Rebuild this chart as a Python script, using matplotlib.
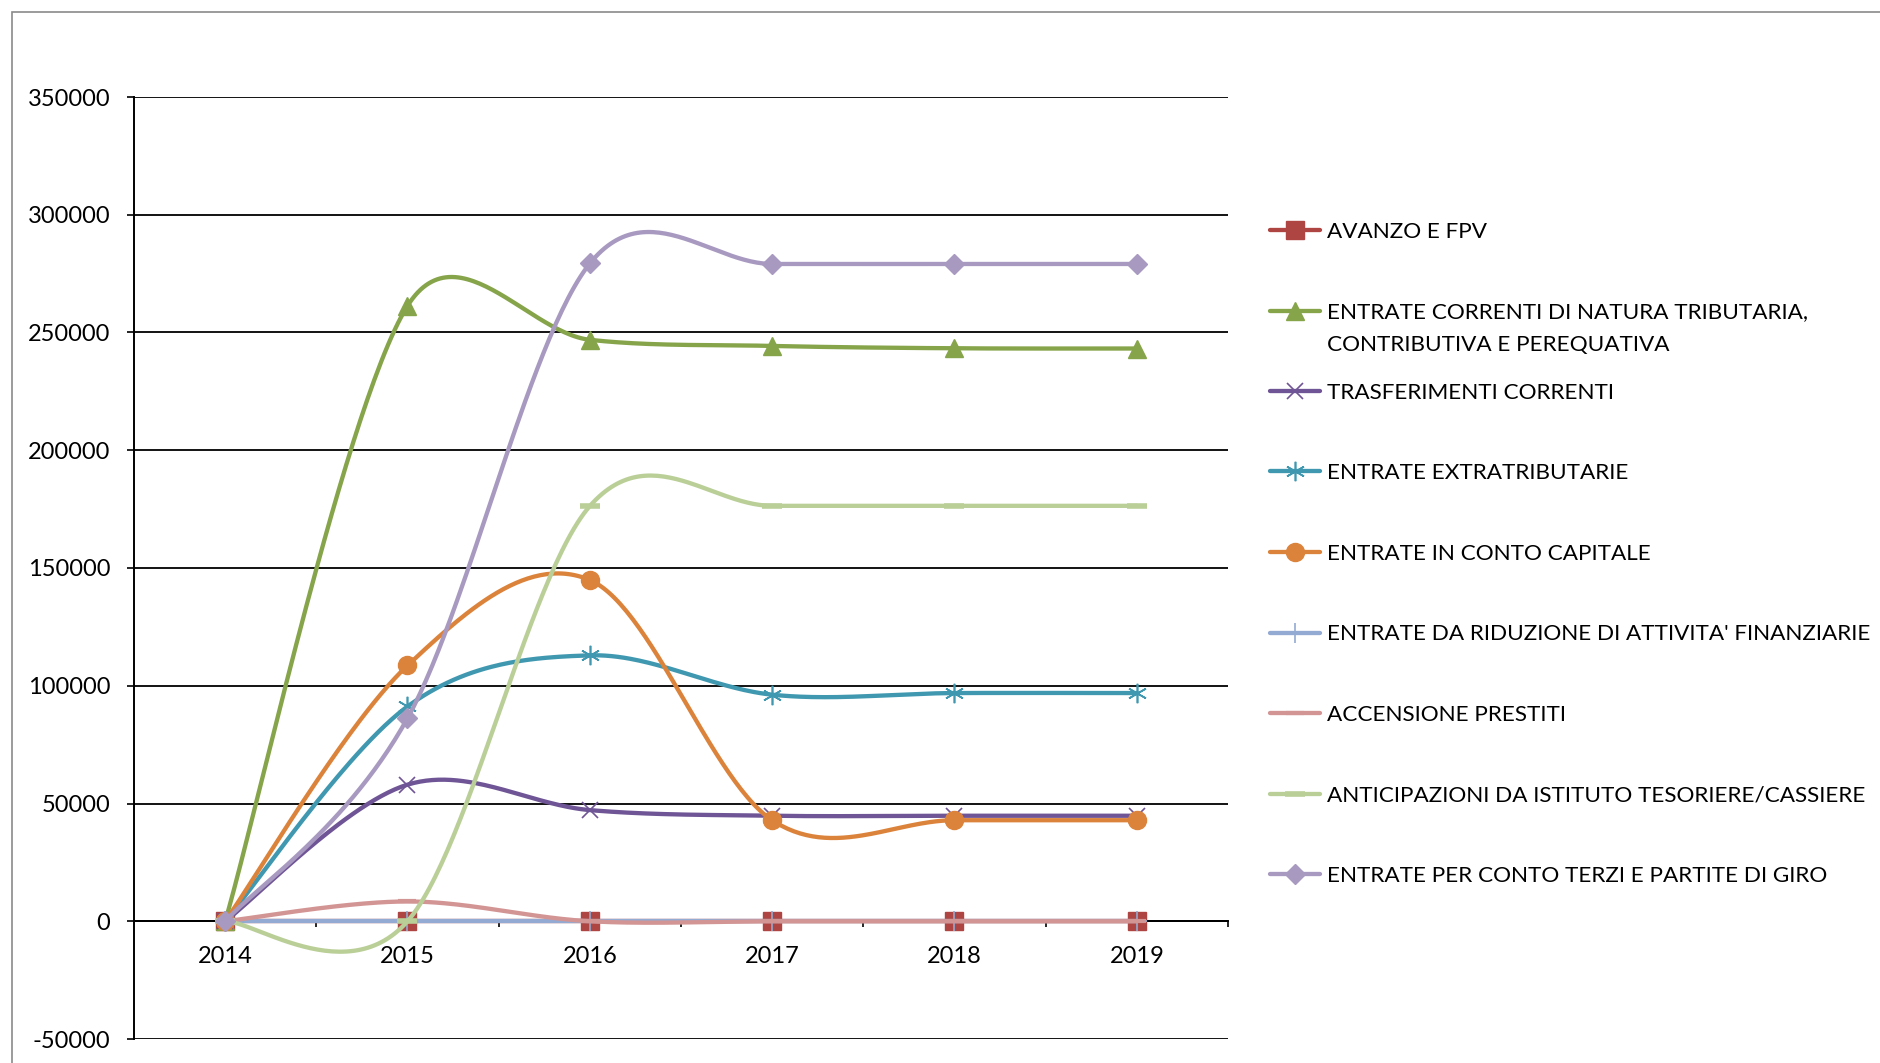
import numpy as np
import matplotlib
matplotlib.use('Agg')
import matplotlib.pyplot as plt
from matplotlib.lines import Line2D
from matplotlib.patches import Rectangle

plt.rcParams['font.family'] = ['Lato', 'DejaVu Sans']

# dati
years = ['2014', '2015', '2016', '2017', '2018', '2019']

avanzo_fpv = [0, 0, 0, 0, 0, 0]
entrate_correnti = [0, 261300, 246900, 244300, 243300, 243200]
trasferimenti = [0, 58000, 47200, 44800, 44800, 44800]
extratributarie = [0, 91200, 112900, 96200, 96900, 96900]
conto_capitale = [0, 108600, 144900, 42900, 42900, 42900]
riduzione_attivita = [0, 0, 0, 0, 0, 0]
accensione_prestiti = [0, 8400, 0, 0, 0, 0]
anticipazioni = [0, 0, 176300, 176400, 176400, 176400]
conto_terzi = [0, 86200, 279300, 279100, 279100, 279100]

labels = ['AVANZO E FPV',
          'ENTRATE CORRENTI DI NATURA TRIBUTARIA,\nCONTRIBUTIVA E PEREQUATIVA',
          'TRASFERIMENTI CORRENTI',
          'ENTRATE EXTRATRIBUTARIE',
          'ENTRATE IN CONTO CAPITALE',
          "ENTRATE DA RIDUZIONE DI ATTIVITA' FINANZIARIE",
          'ACCENSIONE PRESTITI',
          'ANTICIPAZIONI DA ISTITUTO TESORIERE/CASSIERE',
          'ENTRATE PER CONTO TERZI E PARTITE DI GIRO']

series = [avanzo_fpv, entrate_correnti, trasferimenti, extratributarie,
          conto_capitale, riduzione_attivita, accensione_prestiti,
          anticipazioni, conto_terzi]

# colore, marker, dimensione marker, spessore bordo marker
styles = [('#AE4542', 's', 13, 1),
          ('#86A44A', '^', 13, 1),
          ('#6F5595', 'x', 12, 1.2),
          ('#3F98B0', (6, 2, 0), 14, 1.2),
          ('#DC833B', 'o', 13, 1),
          ('#93AAD2', '+', 14, 1.2),
          ('#D39594', '_', 13, 3),
          ('#BACF98', '_', 14, 4),
          ('#A899C0', 'D', 10, 1)]


def excel_smooth(ax, y, n=60):
    # linea smussata tipo Excel: bezier con punti di controllo catmull-rom,
    # calcolata in coordinate schermo, braccio limitato a meta' segmento
    x = np.arange(len(y), dtype=float)
    p = ax.transData.transform(np.column_stack([x, np.asarray(y, dtype=float)]))
    t = np.linspace(0, 1, n)[:, None]
    b0, b1, b2, b3 = (1-t)**3, 3*(1-t)**2*t, 3*(1-t)*t**2, t**3
    out = []
    for i in range(len(p) - 1):
        p0 = p[max(i - 1, 0)]
        p1, p2 = p[i], p[i+1]
        p3 = p[min(i + 2, len(p) - 1)]
        seg = np.hypot(*(p2 - p1))
        v1 = (p2 - p0) / 6
        v2 = (p3 - p1) / 6
        for v in (v1, v2):
            lv = np.hypot(*v)
            if lv > seg / 2:
                v *= (seg / 2) / lv
        c1 = p1 + v1
        c2 = p2 - v2
        out.append(b0*p1 + b1*c1 + b2*c2 + b3*p2)
    pts = ax.transData.inverted().transform(np.vstack(out))
    return pts[:, 0], pts[:, 1]


W, H = 1881, 1063
fig = plt.figure(figsize=(W/100, H/100), dpi=100)

# bordo grigio dell'area del grafico
fig.patches.append(Rectangle((12/W, -0.2), 2, 1.2 - 12/H, transform=fig.transFigure,
                             fill=False, edgecolor='#8A8A8A', lw=1.2))

ax = fig.add_axes([134/W, 1 - 1039/H, (1228-134)/W, (1039-97)/H])
ax.set_xlim(-0.5, len(years) - 0.5)
ax.set_ylim(-50000, 350000)

x = np.arange(len(years))
for i, (vals, (col, mk, ms, mew)) in enumerate(zip(series, styles)):
    sx, sy = excel_smooth(ax, vals)
    ax.plot(sx, sy, color=col, lw=3.1, zorder=3+i, solid_capstyle='round')
    ax.plot(x, vals, linestyle='none', marker=mk, markersize=ms, color=col,
            markeredgecolor=col, markeredgewidth=mew, zorder=3+i, clip_on=False)

ax.set_xlim(-0.5, len(years) - 0.5)
ax.set_ylim(-50000, 350000)
ax.set_yticks(np.arange(-50000, 350001, 50000))
ax.set_yticklabels([str(v) for v in range(-50000, 350001, 50000)])
ax.set_xticks(x)
ax.set_xticklabels(years)
ax.set_xticks(np.arange(0.5, len(years), 1), minor=True)

ax.grid(axis='y', color='black', lw=1.3, zorder=1)
ax.set_axisbelow(True)
for s in ['top', 'right']:
    ax.spines[s].set_visible(False)
ax.spines['left'].set_linewidth(1.4)
ax.spines['bottom'].set_position(('data', 0))
ax.spines['bottom'].set_linewidth(1.4)
ax.spines['bottom'].set_zorder(2)

ax.tick_params(axis='y', length=5, width=1.2, pad=12, labelsize=17)
ax.tick_params(axis='x', which='major', length=0, pad=18, labelsize=17)
ax.tick_params(axis='x', which='minor', length=4, width=1.2, direction='out')

# legenda a destra, voci a passo costante (seconda riga sotto la prima)
lx0, lx1, tx = 1270/W, 1320/W, 1327/W
for i, (lab, (col, mk, ms, mew)) in enumerate(zip(labels, styles)):
    ly = 1 - (230 + i*80.5)/H
    fig.add_artist(Line2D([lx0, lx1], [ly, ly], color=col, lw=3.1,
                          solid_capstyle='round', transform=fig.transFigure))
    fig.add_artist(Line2D([(lx0+lx1)/2], [ly], marker=mk, markersize=ms, color=col,
                          markeredgecolor=col, markeredgewidth=mew,
                          transform=fig.transFigure))
    for k, row in enumerate(lab.split('\n')):
        fig.text(tx, ly - k*32.5/H, row, fontsize=16.2, va='center_baseline',
                 ha='left')

fig.savefig('out.png', dpi=100)
